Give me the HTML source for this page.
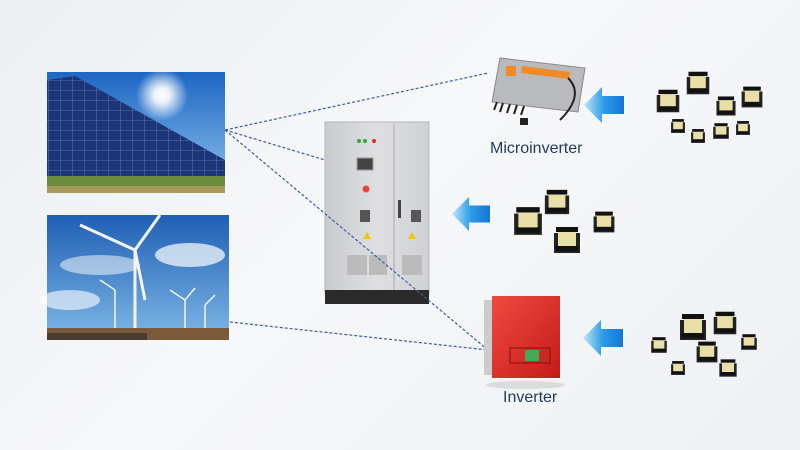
<!DOCTYPE html>
<html><head><meta charset="utf-8"><style>
html,body{margin:0;padding:0}
body{width:800px;height:450px;overflow:hidden;background:linear-gradient(135deg,#eceef2 0%,#f7f8fa 45%,#eef0f3 100%);font-family:"Liberation Sans",sans-serif}
svg{display:block}
</style></head><body>
<svg width="800" height="450" viewBox="0 0 800 450" xmlns="http://www.w3.org/2000/svg">
<defs>
<linearGradient id="sky" x1="0" y1="0" x2="0" y2="1"><stop offset="0" stop-color="#1e66c4"/><stop offset="1" stop-color="#8fc4ee"/></linearGradient>
<linearGradient id="sky2" x1="0" y1="0" x2="0" y2="1"><stop offset="0" stop-color="#1f5fb5"/><stop offset="1" stop-color="#7fb8e6"/></linearGradient>
<radialGradient id="sun"><stop offset="0" stop-color="#fff"/><stop offset="0.3" stop-color="#fff" stop-opacity="0.9"/><stop offset="1" stop-color="#fff" stop-opacity="0"/></radialGradient>
<linearGradient id="arr" x1="0" y1="0" x2="1" y2="0"><stop offset="0" stop-color="#bfe6fa"/><stop offset="0.5" stop-color="#2c9be6"/><stop offset="1" stop-color="#1476d6"/></linearGradient>
<linearGradient id="cab" x1="0" y1="0" x2="1" y2="0"><stop offset="0" stop-color="#c9cbce"/><stop offset="0.5" stop-color="#dedfe1"/><stop offset="1" stop-color="#cfd1d4"/></linearGradient>
<linearGradient id="red" x1="0" y1="0" x2="1" y2="1"><stop offset="0" stop-color="#f04a3e"/><stop offset="1" stop-color="#c41a1a"/></linearGradient>
<pattern id="grid" width="12" height="10" patternUnits="userSpaceOnUse"><rect width="12" height="10" fill="#1c3478"/><path d="M0 0H12M0 0V10" stroke="#8fa2d0" stroke-width="0.6"/></pattern>
<symbol id="arrow" viewBox="0 0 40 40"><path d="M0 20 L18 2 L18 11 L40 11 L40 29 L18 29 L18 38 Z" fill="url(#arr)"/></symbol>
<symbol id="xf" viewBox="0 0 30 30"><rect x="2" y="8" width="26" height="20" fill="#222"/><rect x="6" y="4" width="18" height="18" fill="#e8e0a8"/><rect x="4" y="2" width="22" height="5" fill="#111"/><rect x="4" y="21" width="22" height="5" fill="#111"/></symbol>
</defs>
<!-- solar image -->
<rect x="47" y="72" width="178" height="121" fill="url(#sky)"/>
<circle cx="162" cy="95" r="26" fill="url(#sun)"/>
<polygon points="47,80 75,76 225,160 225,178 47,180" fill="url(#grid)"/>
<rect x="47" y="176" width="178" height="17" fill="#6c8a3c"/>
<rect x="47" y="186" width="178" height="7" fill="#a89a5a"/>
<!-- wind image -->
<rect x="47" y="215" width="182" height="125" fill="url(#sky2)"/>
<ellipse cx="190" cy="255" rx="35" ry="12" fill="#fff" opacity="0.7"/>
<ellipse cx="100" cy="265" rx="40" ry="10" fill="#fff" opacity="0.5"/>
<ellipse cx="70" cy="300" rx="30" ry="10" fill="#fff" opacity="0.6"/>
<g stroke="#f4f4f4" stroke-width="3"><line x1="135" y1="250" x2="135" y2="330"/><line x1="135" y1="250" x2="80" y2="225"/><line x1="135" y1="250" x2="160" y2="215"/><line x1="135" y1="250" x2="145" y2="300"/></g>
<g stroke="#f4f4f4" stroke-width="1.5"><line x1="185" y1="300" x2="185" y2="330"/><line x1="185" y1="300" x2="170" y2="290"/><line x1="185" y1="300" x2="195" y2="288"/><line x1="205" y1="305" x2="205" y2="330"/><line x1="205" y1="305" x2="215" y2="295"/><line x1="115" y1="290" x2="115" y2="330"/><line x1="115" y1="290" x2="100" y2="280"/></g>
<rect x="47" y="328" width="182" height="12" fill="#7a5a3a"/>
<rect x="47" y="333" width="100" height="7" fill="#2a2a2a" opacity="0.6"/>
<!-- cabinet -->
<rect x="325" y="122" width="104" height="172" fill="url(#cab)" stroke="#b5b7ba"/>
<line x1="394" y1="124" x2="394" y2="292" stroke="#a8aaad"/>
<rect x="325" y="290" width="104" height="14" fill="#2a2a2a"/>
<rect x="357" y="158" width="16" height="12" fill="#444" stroke="#999"/>
<circle cx="359" cy="141" r="2" fill="#3a3"/><circle cx="365" cy="141" r="2" fill="#3a3"/><circle cx="374" cy="141" r="2" fill="#c33"/>
<circle cx="366" cy="189" r="3.5" fill="#e43"/>
<rect x="360" y="210" width="10" height="12" fill="#555"/><rect x="411" y="210" width="10" height="12" fill="#555"/>
<polygon points="367,232 371,239 363,239" fill="#f5c400"/><polygon points="412,232 416,239 408,239" fill="#f5c400"/>
<rect x="347" y="255" width="20" height="20" fill="#bbb"/><rect x="369" y="255" width="18" height="20" fill="#bbb"/><rect x="402" y="255" width="20" height="20" fill="#bbb"/>
<rect x="398" y="200" width="3" height="18" fill="#444"/>
<!-- dashed lines -->
<g stroke="#3a5e9e" stroke-width="1.2" stroke-dasharray="3,2" fill="none">
<line x1="225" y1="130" x2="488" y2="73"/>
<line x1="225" y1="130" x2="325" y2="160"/>
<line x1="225" y1="130" x2="488" y2="350"/>
<line x1="230" y1="322" x2="488" y2="350"/>
</g>
<!-- microinverter -->
<polygon points="500,58 585,68 578,112 492,102" fill="#b8babd" stroke="#888"/>
<polygon points="522,66 570,72 569,79 521,73" fill="#f08a24"/>
<rect x="506" y="66" width="10" height="10" fill="#f08a24"/>
<g stroke="#222" stroke-width="2"><line x1="497" y1="102" x2="494" y2="110"/><line x1="503" y1="103" x2="500" y2="112"/><line x1="510" y1="104" x2="507" y2="113"/><line x1="517" y1="105" x2="514" y2="114"/><line x1="524" y1="106" x2="521" y2="115"/></g>
<path d="M568 78 Q585 95 560 120" stroke="#222" stroke-width="2" fill="none"/>
<rect x="520" y="118" width="8" height="7" fill="#222"/>
<text x="490" y="153" font-size="16" fill="#1f3a5f">Microinverter</text>
<!-- red inverter -->
<rect x="492" y="296" width="68" height="82" fill="url(#red)"/>
<rect x="484" y="300" width="8" height="75" fill="#ccc"/>
<rect x="525" y="350" width="14" height="11" fill="#4a5"/>
<rect x="510" y="348" width="40" height="15" fill="none" stroke="#7a1010"/>
<ellipse cx="525" cy="385" rx="40" ry="4" fill="#ccc" opacity="0.6"/>
<text x="503" y="402" font-size="16" fill="#1f3a5f">Inverter</text>
<!-- arrows -->
<use href="#arrow" x="584" y="85" width="40" height="40"/>
<use href="#arrow" x="452" y="194" width="38" height="40"/>
<use href="#arrow" x="583" y="318" width="40" height="40"/>
<!-- transformer groups -->
<use href="#xf" x="655" y="88" width="26" height="26"/>
<use href="#xf" x="685" y="70" width="26" height="26"/>
<use href="#xf" x="715" y="95" width="22" height="22"/>
<use href="#xf" x="740" y="85" width="24" height="24"/>
<use href="#xf" x="670" y="118" width="16" height="16"/>
<use href="#xf" x="690" y="128" width="16" height="16"/>
<use href="#xf" x="712" y="122" width="18" height="18"/>
<use href="#xf" x="735" y="120" width="16" height="16"/>
<use href="#xf" x="512" y="205" width="32" height="32"/>
<use href="#xf" x="543" y="188" width="28" height="28"/>
<use href="#xf" x="552" y="225" width="30" height="30"/>
<use href="#xf" x="592" y="210" width="24" height="24"/>
<use href="#xf" x="678" y="312" width="30" height="30"/>
<use href="#xf" x="712" y="310" width="26" height="26"/>
<use href="#xf" x="650" y="336" width="18" height="18"/>
<use href="#xf" x="695" y="340" width="24" height="24"/>
<use href="#xf" x="740" y="333" width="18" height="18"/>
<use href="#xf" x="670" y="360" width="16" height="16"/>
<use href="#xf" x="718" y="358" width="20" height="20"/>
</svg>
</body></html>
